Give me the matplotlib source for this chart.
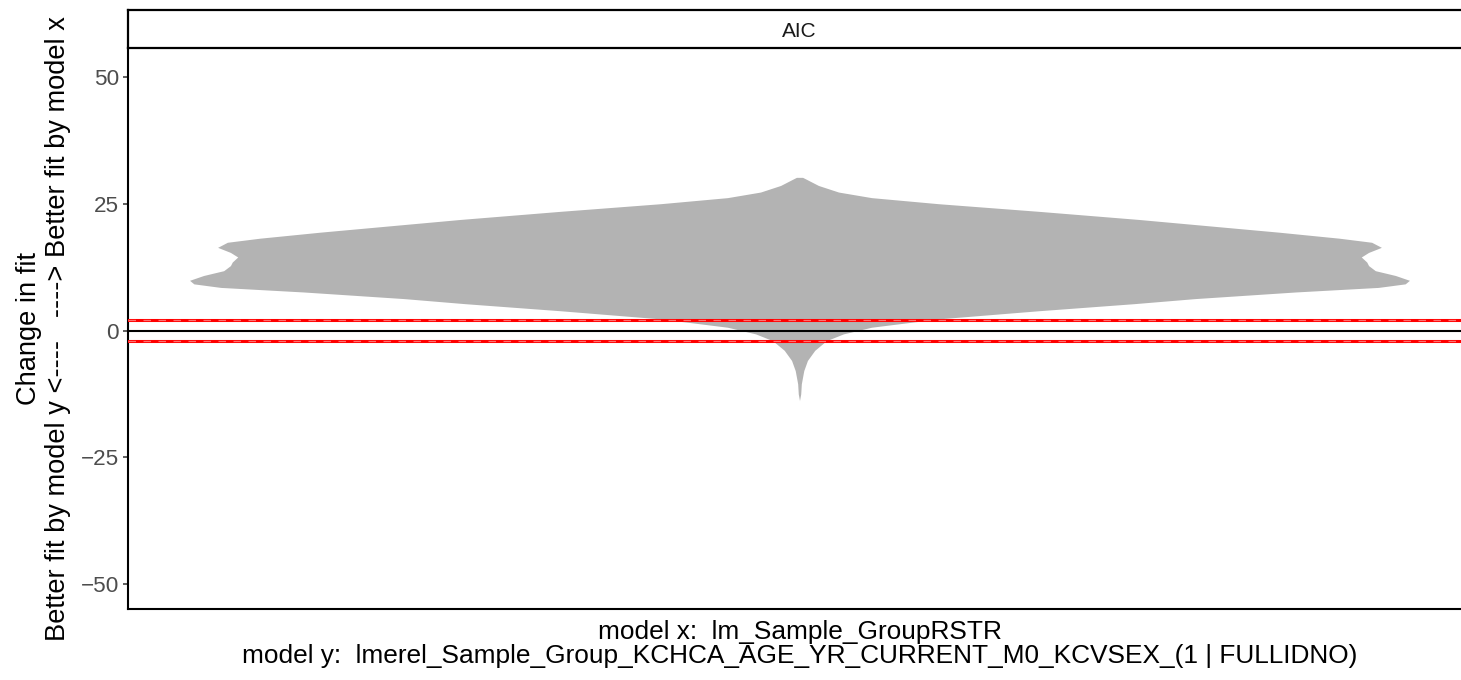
import matplotlib
matplotlib.use("Agg")
import matplotlib.pyplot as plt
import numpy as np

plt.rcParams['font.family'] = ['Liberation Sans', 'DejaVu Sans']

# violin outline: change in AIC vs. relative density (1 = widest point)
aic_change = [-13.8, -12.5, -10.5, -9.2, -7.9, -5.9, -3.9, -2.0, -0.66, 0.65,
              2.3, 3.9, 5.3, 6.3, 7.6, 8.5, 9.2, 9.9, 10.85, 11.8,
              12.8, 13.5, 14.5, 15.4, 16.4, 17.4, 18.2, 19.4, 21.9, 23.5,
              25.0, 26.2, 27.3, 28.6, 29.9, 30.2]
density = [0.0, 0.002, 0.003, 0.005, 0.007, 0.013, 0.025, 0.044, 0.072, 0.118,
           0.228, 0.392, 0.549, 0.649, 0.813, 0.949, 0.993, 1.0, 0.977, 0.944,
           0.933, 0.930, 0.921, 0.933, 0.954, 0.938, 0.885, 0.785, 0.556, 0.392,
           0.228, 0.118, 0.064, 0.031, 0.010, 0.005]

threshold = 2          # red reference lines at +/- threshold
y_ticks = [-50, -25, 0, 25, 50]
facet_label = "AIC"
model_x = "lm_Sample_GroupRSTR"
model_y = "lmerel_Sample_Group_KCHCA_AGE_YR_CURRENT_M0_KCVSEX_(1 | FULLIDNO)"

W, H = 1461, 680
fig = plt.figure(figsize=(W / 100, H / 100), dpi=100)

left, right, bottom, top = 128, 1471, 609, 48
ax = fig.add_axes([left / W, (H - bottom) / H, (right - left) / W, (bottom - top) / H])

aic = np.array(aic_change)
dens = np.array(density)
half = 0.545
ax.fill_betweenx(aic, 1 - dens * half, 1 + dens * half, color='#B3B3B3', lw=0, zorder=1)

ax.axhline(0, color='black', lw=1.5, zorder=3)
for t in (threshold, -threshold):
    ax.axhline(t, color='#FF0000', lw=2.2, zorder=3)
    ax.axhline(t, color='#FF7070', lw=0.9, ls=(0, (6, 6)), zorder=4)

ax.set_xlim(0.4, 1.6)
ax.set_ylim(-54.9, 55.7)
ax.set_xticks([])
ax.set_yticks(y_ticks)
ax.set_yticklabels([str(v).replace('-', '\u2212') for v in y_ticks])
ax.tick_params(axis='y', length=3.6, width=1.1, color='#333333',
               labelcolor='#4D4D4D', labelsize=16.2, pad=3)

for side in ('top', 'right'):
    ax.spines[side].set_visible(False)
for side in ('left', 'bottom'):
    ax.spines[side].set_linewidth(1.5)
    ax.spines[side].set_color('black')

ax.set_ylabel("Change in fit\nBetter fit by model y <----   ----> Better fit by model x",
              fontsize=19.6, labelpad=7, linespacing=1.12)
ax.set_xlabel("model x:  " + model_x + "\nmodel y:  " + model_y,
              fontsize=18.9, labelpad=8, linespacing=0.97)

# facet strip
strip = fig.add_axes([left / W, (H - top) / H, (right - left) / W, 38 / H])
strip.set_xticks([])
strip.set_yticks([])
for s in strip.spines.values():
    s.set_linewidth(1.6)
    s.set_color('black')
strip.text(0.5, 0.44, facet_label, ha='center', va='center', fontsize=15,
           color='#1A1A1A', transform=strip.transAxes)

fig.savefig("out.png", dpi=100)
